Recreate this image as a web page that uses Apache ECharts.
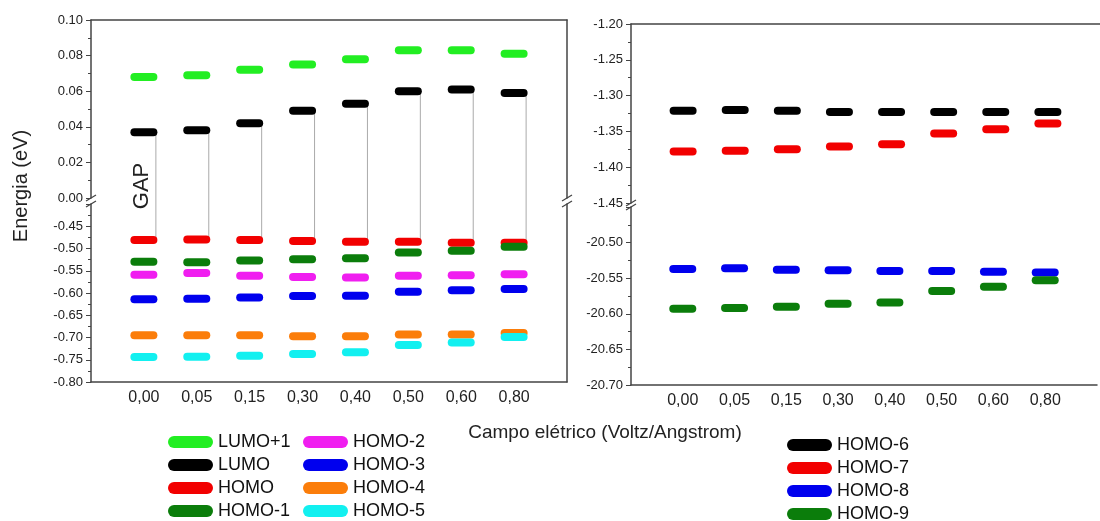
<!DOCTYPE html>
<html lang="pt">
<head>
  <meta charset="UTF-8">
  <title>Energia vs campo elétrico</title>
  <style>
    html, body { margin: 0; padding: 0; background: #fff; }
    #main { width: 1100px; height: 521px; }
  </style>
</head>
<body>
  <div id="main"></div>
<script src="https://cdn.jsdelivr.net/npm/echarts@6/dist/echarts.min.js"></script>
<script>
  var chart = echarts.init(document.getElementById('main'));

  // campo elétrico (eixo x)
  var campo = ['0,00', '0,05', '0,15', '0,30', '0,40', '0,50', '0,60', '0,80'];

  // painel esquerdo, parte de cima
  var lumo1 = [0.068, 0.069, 0.072, 0.075, 0.078, 0.083, 0.083, 0.081];
  var lumo  = [0.037, 0.038, 0.042, 0.049, 0.053, 0.060, 0.061, 0.059];
  // painel esquerdo, parte de baixo
  var homo  = [-0.481, -0.480, -0.481, -0.483, -0.485, -0.485, -0.487, -0.487];
  var homo1 = [-0.530, -0.531, -0.527, -0.524, -0.522, -0.509, -0.505, -0.496];
  var homo2 = [-0.559, -0.555, -0.561, -0.564, -0.565, -0.561, -0.560, -0.558];
  var homo3 = [-0.614, -0.613, -0.610, -0.607, -0.606, -0.597, -0.594, -0.591];
  var homo4 = [-0.695, -0.695, -0.695, -0.697, -0.697, -0.693, -0.693, -0.690];
  var homo5 = [-0.744, -0.743, -0.741, -0.737, -0.733, -0.717, -0.711, -0.699];
  // painel direito
  var homo6 = [-1.321, -1.320, -1.321, -1.323, -1.323, -1.323, -1.323, -1.323];
  var homo7 = [-1.378, -1.377, -1.375, -1.371, -1.368, -1.353, -1.347, -1.339];
  var homo8 = [-20.537, -20.536, -20.538, -20.539, -20.540, -20.540, -20.541, -20.542];
  var homo9 = [-20.593, -20.592, -20.590, -20.586, -20.584, -20.568, -20.562, -20.553];

  var font = 'Liberation Sans, Arial, sans-serif';
  var bar = 'path://M4 0L23 0A4 4 0 0 1 23 8L4 8A4 4 0 0 1 4 0Z';
  var legendIcon = 'path://M6 0L39 0A6 6 0 0 1 39 12L6 12A6 6 0 0 1 6 0Z';
  var axisColor = '#444';

  function pts(arr) {
    return arr.map(function (v, i) { return [i + 1, v]; });
  }

  function levels(name, arr, color, grid) {
    return {
      name: name,
      type: 'scatter',
      xAxisIndex: grid,
      yAxisIndex: grid,
      symbol: bar,
      symbolSize: [27, 8],
      itemStyle: { color: color, opacity: 1 },
      data: pts(arr),
      z: 3,
      silent: true
    };
  }

  // linhas do GAP (LUMO -> HOMO), atravessando a quebra
  function gapLines(arr, grid, down) {
    return {
      type: 'custom',
      xAxisIndex: grid,
      yAxisIndex: grid,
      data: pts(arr),
      z: 2,
      silent: true,
      renderItem: function (params, api) {
        var p = api.coord([api.value(0), api.value(1)]);
        var cs = params.coordSys;
        var x = p[0] + 12;
        var y2 = down ? cs.y + cs.height + 6 : cs.y;
        return {
          type: 'line',
          shape: { x1: x, y1: p[1], x2: x, y2: y2 },
          style: { stroke: '#aaa', lineWidth: 1 }
        };
      }
    };
  }

  function xAxis(grid, top) {
    return {
      type: 'value', gridIndex: grid, min: 0, max: 9, interval: 1,
      position: top ? 'top' : 'bottom',
      splitLine: { show: false },
      axisTick: { show: false },
      axisLine: { show: true, onZero: false, lineStyle: { color: axisColor, width: 1.5 } },
      axisLabel: {
        show: !top, margin: 8, fontSize: 16, color: '#222', fontFamily: font,
        formatter: function (v) { return campo[v - 1] || ''; }
      }
    };
  }

  function yAxis(grid, min, max, interval, showMax) {
    return {
      type: 'value', gridIndex: grid, min: min, max: max, interval: interval,
      position: 'left',
      splitLine: { show: false },
      axisLine: { show: true, onZero: false, lineStyle: { color: axisColor, width: 1.5 } },
      axisTick: { show: true, inside: false, length: 5, lineStyle: { color: axisColor } },
      minorTick: { show: true, splitNumber: 2, length: 3, lineStyle: { color: axisColor } },
      axisLabel: {
        fontSize: 13, color: '#222', fontFamily: font, margin: 8,
        showMaxLabel: showMax,
        formatter: function (v) { return v.toFixed(2); }
      }
    };
  }

  function borderAxis(grid, min, max) {
    return {
      type: 'value', gridIndex: grid, min: min, max: max, position: 'right',
      splitLine: { show: false }, axisTick: { show: false }, axisLabel: { show: false },
      axisLine: { show: true, onZero: false, lineStyle: { color: axisColor, width: 1.5 } }
    };
  }

  function breakMark(x, yTop, yBot) {
    return {
      type: 'group',
      children: [
        { type: 'rect', shape: { x: x - 6, y: yTop + 1, width: 12, height: yBot - yTop - 2 }, style: { fill: '#fff' } },
        { type: 'line', shape: { x1: x - 5, y1: yTop + 3, x2: x + 5, y2: yTop - 3 }, style: { stroke: axisColor, lineWidth: 1.3 } },
        { type: 'line', shape: { x1: x - 5, y1: yBot + 3, x2: x + 5, y2: yBot - 3 }, style: { stroke: axisColor, lineWidth: 1.3 } }
      ],
      z: 10
    };
  }

  function legend(names, left, top) {
    return {
      data: names, orient: 'vertical', left: left, top: top, height: 120,
      padding: 0,
      itemWidth: 45, itemHeight: 12, itemGap: 5, icon: legendIcon,
      selectedMode: false,
      textStyle: { fontSize: 18, lineHeight: 18, color: '#111', fontFamily: font }
    };
  }

  var option = {
    animation: false,
    backgroundColor: '#fff',
    grid: [
      { left: 91, top: 20, width: 476, height: 178 },
      { left: 91, top: 204, width: 476, height: 178 },
      { left: 631, top: 24, width: 476, height: 179 },
      { left: 631, top: 207, width: 476, height: 178 }
    ],
    xAxis: [xAxis(0, true), xAxis(1, false), xAxis(2, true), xAxis(3, false)],
    yAxis: [
      yAxis(0, 0, 0.10, 0.02, true),
      yAxis(1, -0.80, -0.40, 0.05, false),
      yAxis(2, -1.45, -1.20, 0.05, true),
      yAxis(3, -20.70, -20.45, 0.05, false),
      borderAxis(0, 0, 0.10),
      borderAxis(1, -0.80, -0.40)
    ],
    legend: [
      legend(['LUMO+1', 'LUMO', 'HOMO', 'HOMO-1'], 168, 433),
      legend(['HOMO-2', 'HOMO-3', 'HOMO-4', 'HOMO-5'], 303, 433),
      legend(['HOMO-6', 'HOMO-7', 'HOMO-8', 'HOMO-9'], 787, 436)
    ],
    graphic: [
      { type: 'text', x: 21, y: 186, rotation: Math.PI / 2,
        style: { text: 'Energia (eV)', font: '20px ' + font, fill: '#222', align: 'center', verticalAlign: 'middle' } },
      { type: 'text', x: 142, y: 186, rotation: Math.PI / 2,
        style: { text: 'GAP', font: '22px ' + font, fill: '#222', align: 'center', verticalAlign: 'middle' }, z: 5 },
      { type: 'text', x: 605, y: 433,
        style: { text: 'Campo elétrico (Voltz/Angstrom)', font: '19px ' + font, fill: '#222', align: 'center', verticalAlign: 'middle' } },
      breakMark(91, 198, 204),
      breakMark(567, 198, 204),
      breakMark(631, 203, 207)
    ],
    series: [
      gapLines(lumo, 0, true),
      gapLines(homo, 1, false),
      levels('LUMO+1', lumo1, '#22ee22', 0),
      levels('LUMO', lumo, '#000000', 0),
      levels('HOMO', homo, '#f20000', 1),
      levels('HOMO-1', homo1, '#0b7d0b', 1),
      levels('HOMO-2', homo2, '#f01ef0', 1),
      levels('HOMO-3', homo3, '#0000ee', 1),
      levels('HOMO-4', homo4, '#fb7d0a', 1),
      levels('HOMO-5', homo5, '#12f0f0', 1),
      levels('HOMO-6', homo6, '#000000', 2),
      levels('HOMO-7', homo7, '#f20000', 2),
      levels('HOMO-8', homo8, '#0000ee', 3),
      levels('HOMO-9', homo9, '#0b7d0b', 3)
    ]
  };

  chart.setOption(option);
</script>
</body>
</html>
